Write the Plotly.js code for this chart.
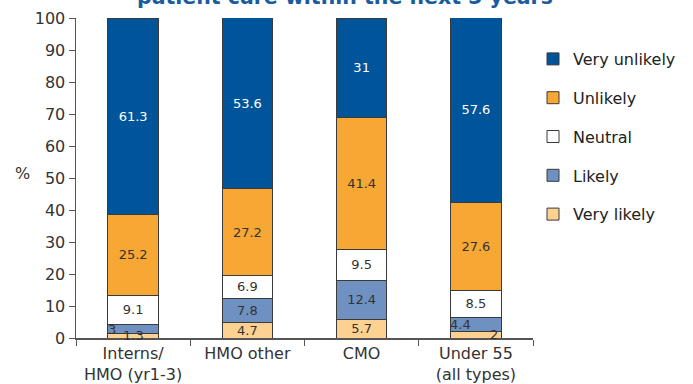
<!DOCTYPE html>
<html>
<head>
<meta charset="utf-8">
<script src="https://cdn.plot.ly/plotly-3.0.1.min.js"></script>
<style>html,body{margin:0;padding:0;background:#fff;}#chart{width:693px;height:384px;}</style>
</head>
<body>
<div id="chart"></div>
<script>
const categories = ["Interns/<br>HMO (yr1-3)", "HMO other", "CMO", "Under 55<br>(all types)"];
const seriesNames = ["Very likely", "Likely", "Neutral", "Unlikely", "Very unlikely"];
const veryLikely   = [1.3, 4.7, 5.7, 2];
const likely       = [3, 7.8, 12.4, 4.4];
const neutral      = [9.1, 6.9, 9.5, 8.5];
const unlikely     = [25.2, 27.2, 41.4, 27.6];
const veryUnlikely = [61.3, 53.6, 31, 57.6];
const yTicks = [0, 10, 20, 30, 40, 50, 60, 70, 80, 90, 100];
const titleText = "patient care within the next 5 years";

const seriesValues = [veryLikely, likely, neutral, unlikely, veryUnlikely];
const colors = ["#fdd291", "#6f91c2", "#ffffff", "#f7a834", "#00559a"];
const textColors = ["#333", "#333", "#333", "#333", "#ffffff"];
// labels placed beside the bar centre because the segment is too thin: [series, category, xshift]
const smallLabels = [[0, 0, 0], [1, 0, -21], [0, 3, 18], [1, 3, -15]];
const isSmall = (s, c) => smallLabels.some(l => l[0] === s && l[1] === c);
const FONT = "DejaVu Sans, Verdana, sans-serif";

const traces = seriesValues.map((vals, s) => ({
  type: "bar",
  name: seriesNames[s],
  legendgroup: "g" + s,
  legendrank: seriesValues.length - s,
  x: categories,
  y: vals,
  text: vals.map((v, c) => isSmall(s, c) ? "" : String(v)),
  textposition: "inside",
  insidetextanchor: "middle",
  textangle: 0,
  constraintext: "none",
  textfont: {family: FONT, size: 13, color: textColors[s]},
  marker: {color: colors[s], line: {color: "#3a3a3a", width: 1}},
  hoverinfo: "skip"
}));

const annotations = smallLabels.map(([s, c, dx]) => {
  let base = 0;
  for (let k = 0; k < s; k++) base += seriesValues[k][c];
  return {
    x: categories[c], y: base + seriesValues[s][c] / 2, xref: "x", yref: "y",
    text: String(seriesValues[s][c]), showarrow: false, xshift: dx,
    font: {family: FONT, size: 13, color: "#333"}
  };
});
annotations.push({
  text: "%", xref: "paper", yref: "paper", x: -0.118, y: 0.515,
  showarrow: false, xanchor: "center", yanchor: "middle",
  font: {family: FONT, size: 16, color: "#333"}
});
// chart title: only its lower part lies inside the picture, as in the reference
annotations.push({
  text: "<b>" + titleText + "</b>", xref: "paper", yref: "paper",
  x: 0.5, y: 1.066, xanchor: "center", yanchor: "middle", showarrow: false,
  xshift: 40,
  font: {family: FONT, size: 20.5, color: "#1a5c9e"}
});

const layout = {
  width: 693, height: 384,
  margin: {l: 76, r: 146, t: 18, b: 46, pad: 0},
  paper_bgcolor: "#fff", plot_bgcolor: "#fff",
  barmode: "stack",
  bargap: 0.56,
  showlegend: true,
  xaxis: {
    type: "category",
    showline: true, linecolor: "#555", linewidth: 1.5,
    ticks: "outside", tickson: "boundaries", ticklen: 6, tickcolor: "#555",
    showgrid: false, zeroline: false,
    tickfont: {family: FONT, size: 16, color: "#333"}
  },
  yaxis: {
    range: [0, 100], tickvals: yTicks, ticktext: yTicks.map(String),
    showline: true, linecolor: "#555", linewidth: 1.5,
    ticks: "outside", ticklen: 6, tickcolor: "#555",
    showgrid: false, zeroline: false,
    tickfont: {family: FONT, size: 16, color: "#333"}
  },
  legend: {
    x: 1.0, xanchor: "left", y: 0.925, yanchor: "top",
    traceorder: "grouped", tracegroupgap: 15,
    font: {family: FONT, size: 16, color: "#222"},
    bgcolor: "rgba(0,0,0,0)"
  },
  annotations: annotations
};

Plotly.newPlot("chart", traces, layout, {displayModeBar: false, staticPlot: true});
</script>
</body>
</html>
